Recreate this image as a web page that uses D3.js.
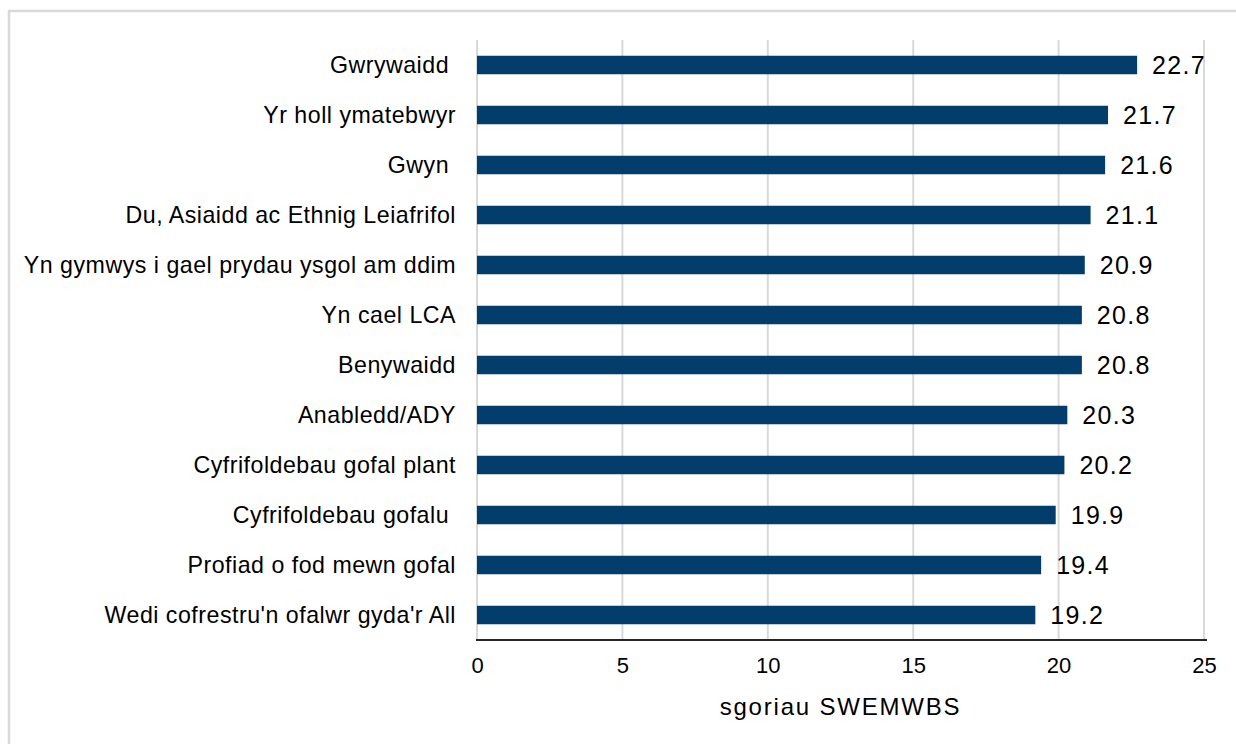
<!DOCTYPE html>
<html>
<head>
<meta charset="utf-8">
<script src="https://cdn.jsdelivr.net/npm/d3@7"></script>
<style>
  html, body { margin: 0; padding: 0; background: #fff; }
  svg { display: block; }
  text { font-family: "Liberation Sans", Arial, sans-serif; fill: #000; }
</style>
</head>
<body>
<svg id="chart" width="1236" height="744"></svg>
<script>
const categories = [
  "Gwrywaidd ",
  "Yr holl ymatebwyr",
  "Gwyn ",
  "Du, Asiaidd ac Ethnig Leiafrifol",
  "Yn gymwys i gael prydau ysgol am ddim",
  "Yn cael LCA",
  "Benywaidd",
  "Anabledd/ADY",
  "Cyfrifoldebau gofal plant",
  "Cyfrifoldebau gofalu ",
  "Profiad o fod mewn gofal",
  "Wedi cofrestru'n ofalwr gyda'r All"
];
const values = [22.7, 21.7, 21.6, 21.1, 20.9, 20.8, 20.8, 20.3, 20.2, 19.9, 19.4, 19.2];
const tickValues = [0, 5, 10, 15, 20, 25];
const axisTitle = "sgoriau SWEMWBS";

(function () {
const svg = d3.select("#chart");
const W = 1236, H = 744;
const mLeft = 477, mRight = 1204, mTop = 40, mBottom = 640;

// outer frame
svg.append("rect")
  .attr("x", 9).attr("y", 11)
  .attr("width", W + 20).attr("height", H + 20)
  .attr("fill", "#fff")
  .attr("stroke", "#d9d9d9")
  .attr("stroke-width", 2.5);

const x = d3.scaleLinear().domain([0, 25]).range([mLeft, mRight]);
const y = d3.scaleBand().domain(categories).range([mTop, mBottom]).paddingInner(0.63).paddingOuter(0.315);

// gridlines
svg.append("g").selectAll("line")
  .data(tickValues)
  .join("line")
  .attr("x1", d => x(d)).attr("x2", d => x(d))
  .attr("y1", mTop).attr("y2", mBottom)
  .attr("stroke", "#d9d9d9")
  .attr("stroke-width", 2);

// bars
svg.append("g").selectAll("rect")
  .data(values)
  .join("rect")
  .attr("x", x(0))
  .attr("y", (d, i) => y(categories[i]))
  .attr("width", d => x(d) - x(0))
  .attr("height", y.bandwidth())
  .attr("fill", "#023d6b");

// value labels
svg.append("g").selectAll("text")
  .data(values)
  .join("text")
  .attr("x", d => x(d) + 15)
  .attr("y", (d, i) => y(categories[i]) + y.bandwidth() / 2)
  .attr("dy", "0.36em")
  .attr("font-size", 25)
  .attr("letter-spacing", 1.3)
  .text(d => d.toFixed(1));

// category labels
svg.append("g").selectAll("text")
  .data(categories)
  .join("text")
  .attr("x", mLeft - 21)
  .attr("y", d => y(d) + y.bandwidth() / 2)
  .attr("dy", "0.36em")
  .attr("text-anchor", "end")
  .attr("font-size", 23.2)
  .attr("letter-spacing", 0.5)
  .style("white-space", "pre")
  .text(d => d);

// bottom axis
const xAxis = d3.axisBottom(x).tickValues(tickValues).tickSize(0).tickPadding(0);
const gx = svg.append("g").attr("transform", `translate(0,${mBottom})`).call(xAxis);
gx.select(".domain").remove();
gx.selectAll("text")
  .attr("y", 33)
  .attr("dy", 0)
  .attr("font-size", 22)
  .attr("font-family", "Liberation Sans, Arial, sans-serif")
  .attr("fill", "#000");
svg.append("line")
  .attr("x1", mLeft - 1).attr("x2", mRight + 3)
  .attr("y1", mBottom).attr("y2", mBottom)
  .attr("stroke", "#262626")
  .attr("stroke-width", 2.2);

// axis title
svg.append("text")
  .attr("x", (mLeft + mRight) / 2)
  .attr("y", 715)
  .attr("text-anchor", "middle")
  .attr("font-size", 24)
  .attr("letter-spacing", 1.8)
  .text(axisTitle);
})();
</script>
</body>
</html>
